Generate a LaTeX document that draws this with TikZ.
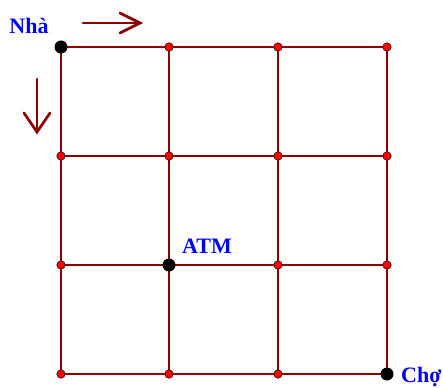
\documentclass[tikz,border=0pt]{standalone}
\usepackage{fontspec}
\setmainfont{Liberation Serif}
\definecolor{roadred}{RGB}{139,0,0}
\begin{document}
\begin{tikzpicture}[x=1pt,y=-1pt,
  road/.style={draw=roadred, line width=2.7pt},
  arr/.style={draw=roadred, line width=2.7pt, line cap=round},
  sdot/.style={circle, fill=red, draw=black, line width=0.5pt, inner sep=0pt, minimum size=8.5pt},
  bdot/.style={circle, fill=black, inner sep=0pt, minimum size=13pt},
  lbl/.style={text=blue, font=\bfseries\fontsize{22}{22}\selectfont, inner sep=0pt}]
\useasboundingbox (0,0) rectangle (443,387);
\foreach \i/\x in {0/61,1/169,2/278,3/387}
  \foreach \j/\y in {0/47,1/156,2/265,3/374}
    \coordinate (c\i\j) at (\x,\y);
\foreach \j in {0,1,2,3} \draw[road] (c0\j) -- (c3\j);
\foreach \i in {0,1,2,3} \draw[road] (c\i0) -- (c\i3);
\foreach \i in {0,1,2,3}
  \foreach \j in {0,1,2,3}
    \node[sdot] (p\i\j) at (c\i\j) {};
\node[bdot] (nha) at (c00) {};
\node[bdot] (atm) at (c12) {};
\node[bdot] (cho) at (c33) {};
\node[lbl] (tnha) at (29,26) {Nhà};
\node[lbl] (tatm) at (207,246) {ATM};
\node[lbl, anchor=west] (tcho) at (401,377) {Chợ};
% right arrow
\coordinate (r0) at (83,23);
\coordinate (r1) at (140,23);
\coordinate (r2) at (120,13);
\coordinate (r3) at (120,33);
\draw[arr] (r0) -- (r1);
\draw[arr] (r2) -- (r1) -- (r3);
% down arrow
\coordinate (d0) at (37,79);
\coordinate (d1) at (37,132);
\coordinate (d2) at (24,113);
\coordinate (d3) at (50,113);
\draw[arr] (d0) -- (d1);
\draw[arr] (d2) -- (d1) -- (d3);
\end{tikzpicture}
\end{document}
